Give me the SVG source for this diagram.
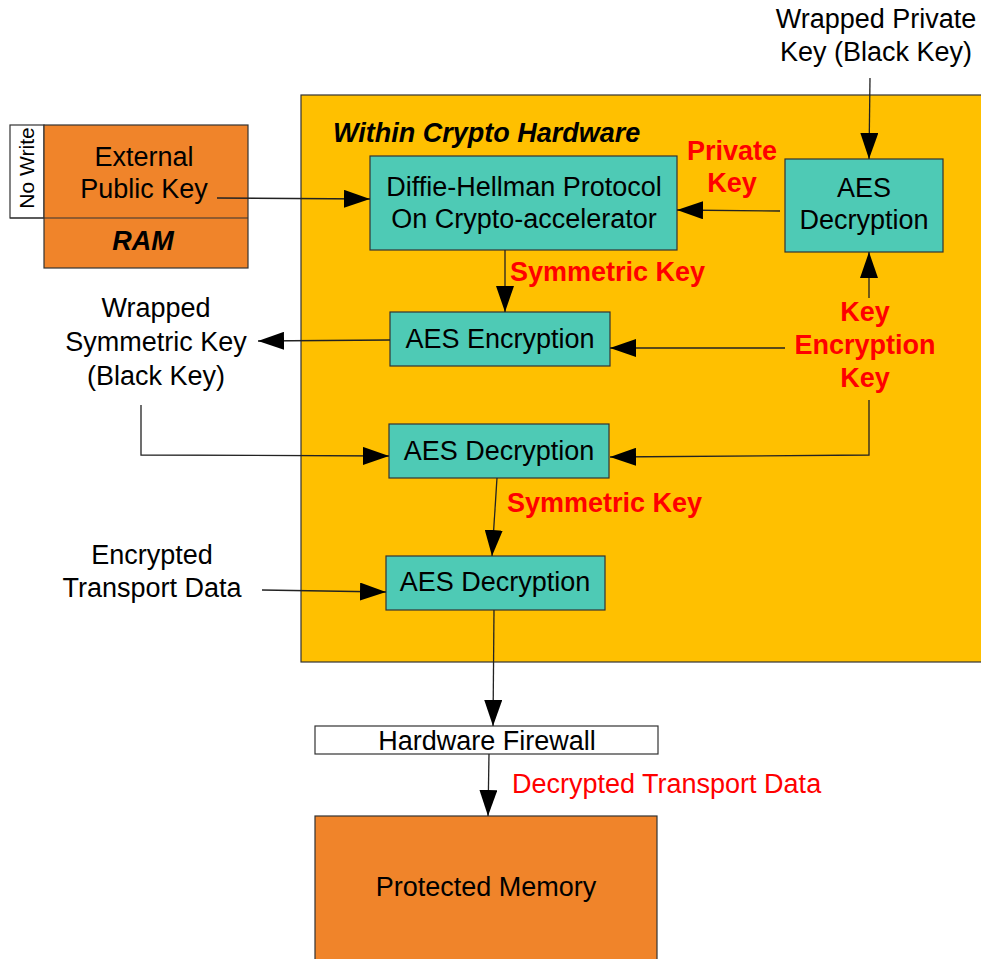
<svg xmlns="http://www.w3.org/2000/svg" width="981" height="959" viewBox="0 0 981 959">
  <style>
    text { font-family: "Liberation Sans", Arial, sans-serif; font-size: 27px; fill: #000; }
    .mid { text-anchor: middle; }
    .red { fill: #ff0000; }
    .bold { font-weight: bold; }
    .ital { font-style: italic; }
    .box { stroke: #333; stroke-width: 1.2; }
    .teal { fill: #4ecab5; }
    .orange { fill: #f0842a; }
    .wire { fill: none; stroke: #222; stroke-width: 1.3; marker-end: url(#arrow); }
  </style>
  <defs>
    <marker id="arrow" markerUnits="userSpaceOnUse" markerWidth="26" markerHeight="18" refX="26" refY="9" orient="auto">
      <path d="M0,0 L26,9 L0,18 z" fill="#000"/>
    </marker>
  </defs>

  <rect width="981" height="959" fill="#fff"/>

  <!-- crypto hardware boundary -->
  <g id="crypto-hardware">
    <rect x="301" y="95" width="700" height="567" fill="#ffc000" class="box"/>
    <text x="333" y="142" class="bold ital">Within Crypto Hardware</text>
  </g>

  <!-- RAM holding the external public key -->
  <g id="ram">
    <rect x="10" y="125" width="34" height="93" fill="#fff" class="box"/>
    <rect x="44" y="125" width="204" height="143" class="box orange"/>
    <line x1="10" y1="218" x2="248" y2="218" stroke="#333" stroke-width="1.2"/>
    <text transform="translate(34,168) rotate(-90)" class="mid" style="font-size:21px">No Write</text>
    <text x="144" y="166" class="mid">External</text>
    <text x="144" y="198" class="mid">Public Key</text>
    <text x="143" y="250" class="mid bold ital">RAM</text>
  </g>

  <g id="wrapped-private-key">
    <text x="876" y="28" class="mid">Wrapped Private</text>
    <text x="876" y="61" class="mid">Key (Black Key)</text>
  </g>

  <g id="diffie-hellman">
    <rect x="370" y="156" width="307" height="94" class="box teal"/>
    <text x="524" y="196" class="mid">Diffie-Hellman Protocol</text>
    <text x="524" y="228" class="mid">On Crypto-accelerator</text>
  </g>

  <g id="aes-decryption-private">
    <rect x="785" y="159" width="158" height="93" class="box teal"/>
    <text x="864" y="197" class="mid">AES</text>
    <text x="864" y="229" class="mid">Decryption</text>
  </g>

  <g id="aes-encryption">
    <rect x="390" y="312" width="220" height="54" class="box teal"/>
    <text x="500" y="348" class="mid">AES Encryption</text>
  </g>

  <g id="wrapped-symmetric-key">
    <text x="156" y="317" class="mid">Wrapped</text>
    <text x="156" y="351" class="mid">Symmetric Key</text>
    <text x="156" y="385" class="mid">(Black Key)</text>
  </g>

  <g id="key-encryption-key">
    <text x="865" y="321" class="mid bold red">Key</text>
    <text x="865" y="354" class="mid bold red">Encryption</text>
    <text x="865" y="387" class="mid bold red">Key</text>
  </g>

  <g id="aes-decryption-symmetric">
    <rect x="389" y="424" width="220" height="54" class="box teal"/>
    <text x="499" y="460" class="mid">AES Decryption</text>
  </g>

  <g id="aes-decryption-data">
    <rect x="386" y="556" width="219" height="54" class="box teal"/>
    <text x="495" y="591" class="mid">AES Decryption</text>
  </g>

  <g id="encrypted-transport-data">
    <text x="152" y="564" class="mid">Encrypted</text>
    <text x="152" y="597" class="mid">Transport Data</text>
  </g>

  <g id="hardware-firewall">
    <rect x="315" y="726" width="343" height="28" fill="#fff" class="box"/>
    <text x="487" y="750" class="mid">Hardware Firewall</text>
  </g>

  <g id="protected-memory">
    <rect x="315" y="816" width="342" height="160" class="box orange"/>
    <text x="486" y="896" class="mid">Protected Memory</text>
  </g>

  <!-- connectors -->
  <g id="connectors">
    <path class="wire" d="M217,198 L370,199"/>
    <path class="wire" d="M780,211 L677,210"/>
    <path class="wire" d="M870,78 L869,159"/>
    <path class="wire" d="M869,298 L869,252"/>
    <path class="wire" d="M785,348 L610,348"/>
    <path class="wire" d="M869,400 L869,455 L610,457"/>
    <path class="wire" d="M505,250 L505,312"/>
    <path class="wire" d="M390,340 L258,341"/>
    <path class="wire" d="M141,405 L141,455 L389,456"/>
    <path class="wire" d="M497,478 L492,556"/>
    <path class="wire" d="M262,590 L386,592"/>
    <path class="wire" d="M494,610 L493,726"/>
    <path class="wire" d="M489,754 L488,816"/>
  </g>

  <!-- connector labels -->
  <g id="labels">
    <text x="732" y="160" class="mid bold red">Private</text>
    <text x="732" y="192" class="mid bold red">Key</text>
    <text x="510" y="281" class="bold red">Symmetric Key</text>
    <text x="507" y="512" class="bold red">Symmetric Key</text>
    <text x="512" y="793" class="red">Decrypted Transport Data</text>
  </g>
</svg>
